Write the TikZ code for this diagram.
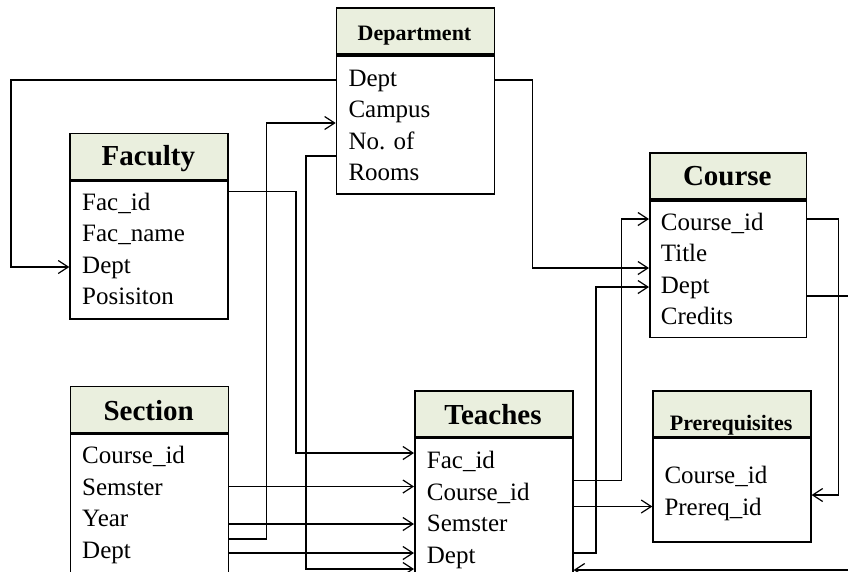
\documentclass[tikz,border=0pt]{standalone}
\usepackage{fontspec}
\setmainfont{Liberation Serif}
\usetikzlibrary{arrows.meta}
\definecolor{hdrfill}{RGB}{234,239,222}
\tikzset{
  tblhead/.style={draw, line width=1.6pt, fill=hdrfill, minimum width=158pt,
    minimum height=46pt, anchor=north west, inner sep=0pt},
  tblbody/.style={draw, line width=1.6pt, fill=white, minimum width=158pt,
    anchor=north west, inner sep=0pt},
  bigtitle/.style={font=\fontsize{29}{32}\selectfont\bfseries, anchor=base, inner sep=0pt},
  smalltitle/.style={font=\fontsize{22}{26}\selectfont\bfseries, anchor=base, inner sep=0pt},
  field/.style={font=\fontsize{25}{30}\selectfont, anchor=base west, inner sep=0pt},
  link/.style={line width=1.2pt, -{Straight Barb[length=10pt,width=13pt,line width=1.2pt]}},
  wire/.style={line width=1.2pt},
}
\begin{document}
\begin{tikzpicture}[x=1pt, y=-1pt]
\clip (0,0) rectangle (848,571);
\fill[white] (0,0) rectangle (848,571);

% ---------- Department ----------
\node[tblhead] (dep-h) at (335.7,7.3) {};
\node[tblbody, minimum height=138.4pt] (dep) at (dep-h.south west) {};
\node[smalltitle] (dep-t) at (414.5,40) {Department};
\node[field] (dep-1) at (348.3,86) {Dept};
\node[field] (dep-2) at (348.3,117.5) {Campus};
\node[field] (dep-3) at (348.3,149) {No. of};
\node[field] (dep-4) at (348.3,180.5) {Rooms};

% ---------- Faculty ----------
\node[tblhead] (fac-h) at (69.3,132.7) {};
\node[tblbody, minimum height=137.7pt] (fac) at (fac-h.south west) {};
\node[bigtitle] (fac-t) at (148.4,165.7) {Faculty};
\node[field] (fac-1) at (82,210) {Fac\_id};
\node[field] (fac-2) at (82,241.5) {Fac\_name};
\node[field] (fac-3) at (82,273) {Dept};
\node[field] (fac-4) at (82,304.5) {Posisiton};

% ---------- Course ----------
\node[tblhead, minimum width=156.7pt] (crs-h) at (649,152.3) {};
\node[tblbody, minimum width=156.7pt, minimum height=136.7pt] (crs) at (crs-h.south west) {};
\node[bigtitle] (crs-t) at (727.3,185) {Course};
\node[field] (crs-1) at (660.7,230) {Course\_id};
\node[field] (crs-2) at (660.7,261.5) {Title};
\node[field] (crs-3) at (660.7,293) {Dept};
\node[field] (crs-4) at (660.7,324.5) {Credits};

% ---------- Section ----------
\node[tblhead] (sec-h) at (69.7,385.7) {};
\node[tblbody, minimum height=200pt] (sec) at (sec-h.south west) {};
\node[bigtitle] (sec-t) at (148.7,420) {Section};
\node[field] (sec-1) at (82,463.3) {Course\_id};
\node[field] (sec-2) at (82,495) {Semster};
\node[field] (sec-3) at (82,526.5) {Year};
\node[field] (sec-4) at (82,558) {Dept};

% ---------- Teaches ----------
\node[tblhead] (tea-h) at (414,390) {};
\node[tblbody, minimum height=200pt] (tea) at (tea-h.south west) {};
\node[bigtitle] (tea-t) at (493,424) {Teaches};
\node[field] (tea-1) at (426.7,468.3) {Fac\_id};
\node[field] (tea-2) at (426.7,500) {Course\_id};
\node[field] (tea-3) at (426.7,531.5) {Semster};
\node[field] (tea-4) at (426.7,563) {Dept};

% ---------- Prerequisites ----------
\node[tblhead, minimum width=157.7pt] (pre-h) at (652.3,390) {};
\node[tblbody, minimum width=157.7pt, minimum height=103.3pt] (pre) at (pre-h.south west) {};
\node[smalltitle] (pre-t) at (731.2,430) {Prerequisites};
\node[field] (pre-1) at (664.3,483.3) {Course\_id};
\node[field] (pre-2) at (664.3,515) {Prereq\_id};

% ---------- Connectors ----------
\draw[link] (dep.west |- 0,80) -| (11,267) -- (fac.west |- 0,267);
\draw[link] (dep.east |- 0,80) -| (532.5,268) -- (crs.west |- 0,268);
\draw[link] (sec.east |- 0,539) -| (266.7,123) -- (dep.west |- 0,123);
\draw[link] (dep.west |- 0,156) -| (306,569) -- (tea.west |- 0,569);
\draw[link] (fac.east |- 0,191.7) -| (296,453) -- (tea.west |- 0,453);
\draw[link] (sec.east |- 0,486.5) -- (tea.west |- 0,486.5);
\draw[link] (sec.east |- 0,524) -- (tea.west |- 0,524);
\draw[link] (sec.east |- 0,553) -- (tea.west |- 0,553);
\draw[link] (tea.east |- 0,480.7) -| (621.5,219) -- (crs.west |- 0,219);
\draw[link] (tea.east |- 0,506.5) -- (pre.west |- 0,506.5);
\draw[link] (tea.east |- 0,553) -| (596,287) -- (crs.west |- 0,287);
\draw[link] (crs.east |- 0,219) -| (838.3,495) -- (pre.east |- 0,495);
\draw[link] (crs.east |- 0,296) -| (862,570) -- (tea.east |- 0,570);
\end{tikzpicture}
\end{document}
